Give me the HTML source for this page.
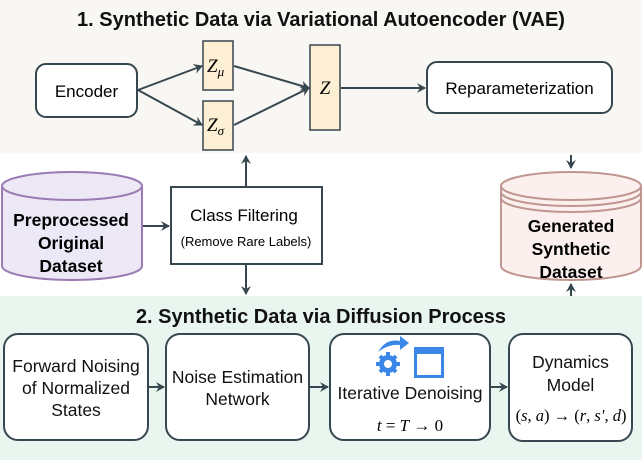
<!DOCTYPE html>
<html><head><meta charset="utf-8"><style>
html,body{margin:0;padding:0;background:#fff}
svg{display:block;font-family:"Liberation Sans",Arial,sans-serif}
.m{font-family:"Liberation Serif",serif;font-style:italic}
</style></head><body>
<svg width="642" height="476" viewBox="0 0 642 476" xmlns="http://www.w3.org/2000/svg">
<defs><marker id="a" markerWidth="10" markerHeight="10" refX="8" refY="5" orient="auto" markerUnits="userSpaceOnUse"><path d="M0,0 L9,5 L0,10 L3,5 Z" fill="#37474f"/></marker></defs>
<rect x="0" y="0" width="642" height="153" fill="#f9f7f3"/>
<rect x="0" y="296" width="642" height="164" fill="#e8f6ef"/>
<g stroke="#37474f" stroke-width="2" fill="none">
<line x1="138" y1="90" x2="202" y2="66" marker-end="url(#a)"/>
<line x1="138" y1="90" x2="202" y2="125" marker-end="url(#a)"/>
<line x1="234" y1="66" x2="309" y2="88" marker-end="url(#a)"/>
<line x1="234" y1="125" x2="309" y2="88" marker-end="url(#a)"/>
<line x1="341" y1="88" x2="425" y2="88" marker-end="url(#a)"/>
<line x1="143" y1="226" x2="169" y2="226" marker-end="url(#a)"/>
<line x1="246" y1="186" x2="246" y2="156" marker-end="url(#a)"/>
<line x1="246" y1="265" x2="246" y2="294" marker-end="url(#a)"/>
<line x1="571" y1="155" x2="571" y2="168" marker-end="url(#a)"/>
<line x1="571" y1="296" x2="571" y2="284" marker-end="url(#a)"/>
<line x1="149" y1="387" x2="164" y2="387" marker-end="url(#a)"/>
<line x1="310" y1="387" x2="328" y2="387" marker-end="url(#a)"/>
<line x1="491" y1="387" x2="507" y2="387" marker-end="url(#a)"/>
</g>
<text x="321" y="26" text-anchor="middle" font-size="20" font-weight="bold" fill="#111">1. Synthetic Data via Variational Autoencoder (VAE)</text>
<rect x="36" y="64" width="101" height="53" rx="10" fill="#fff" stroke="#37474f" stroke-width="2"/>
<text x="86.5" y="97" text-anchor="middle" font-size="17">Encoder</text>
<rect x="203" y="41" width="30" height="49" fill="#fcefd4" stroke="#37474f" stroke-width="1.5"/>
<text x="207" y="72" class="m" font-size="19">Z<tspan font-size="13" dy="4">μ</tspan></text>
<rect x="203" y="101" width="30" height="49" fill="#fcefd4" stroke="#37474f" stroke-width="1.5"/>
<text x="207" y="131" class="m" font-size="19">Z<tspan font-size="13" dy="4">σ</tspan></text>
<rect x="310" y="45" width="30" height="85" fill="#fcefd4" stroke="#37474f" stroke-width="1.5"/>
<text x="325" y="94" text-anchor="middle" class="m" font-size="19">Z</text>
<rect x="427" y="62" width="185" height="51" rx="10" fill="#fff" stroke="#37474f" stroke-width="2"/>
<text x="519.5" y="94" text-anchor="middle" font-size="17">Reparameterization</text>
<path d="M2,186 L2,266 A70,14 0 0 0 142,266 L142,186" fill="#ede8f6" stroke="#9a7bb3" stroke-width="2"/>
<ellipse cx="72" cy="186" rx="70" ry="14" fill="#ede8f6" stroke="#9a7bb3" stroke-width="2"/>
<text x="71" y="226" text-anchor="middle" font-size="17.5" font-weight="bold">Preprocessed</text>
<text x="71" y="249" text-anchor="middle" font-size="17.5" font-weight="bold">Original</text>
<text x="71" y="272" text-anchor="middle" font-size="17.5" font-weight="bold">Dataset</text>
<rect x="171" y="187" width="151" height="77" fill="#fff" stroke="#37474f" stroke-width="2"/>
<text x="244" y="221" text-anchor="middle" font-size="17">Class Filtering</text>
<text x="246" y="246" text-anchor="middle" font-size="13">(Remove Rare Labels)</text>
<path d="M501,186 L501,266 A70,14 0 0 0 641,266 L641,186" fill="#fcf0ef" stroke="#c09690" stroke-width="2"/>
<ellipse cx="571" cy="186" rx="70" ry="14" fill="#fcf0ef" stroke="#c09690" stroke-width="2"/>
<path d="M501,192 A70,14 0 0 0 641,192 M501,198 A70,14 0 0 0 641,198" fill="none" stroke="#c09690" stroke-width="2"/>
<text x="571" y="232" text-anchor="middle" font-size="17.5" font-weight="bold">Generated</text>
<text x="571" y="255" text-anchor="middle" font-size="17.5" font-weight="bold">Synthetic</text>
<text x="571" y="278" text-anchor="middle" font-size="17.5" font-weight="bold">Dataset</text>
<text x="321" y="323" text-anchor="middle" font-size="20" font-weight="bold" fill="#111">2. Synthetic Data via Diffusion Process</text>
<g fill="#fff" stroke="#37474f" stroke-width="2">
<rect x="4" y="334" width="144" height="106" rx="14"/>
<rect x="166" y="334" width="143" height="106" rx="14"/>
<rect x="330" y="334" width="160" height="106" rx="14"/>
<rect x="509" y="334" width="123" height="107" rx="14"/>
</g>
<g font-size="17.5" text-anchor="middle" fill="#111">
<text x="76" y="372">Forward Noising</text>
<text x="76" y="394">of Normalized</text>
<text x="76" y="416">States</text>
<text x="237.5" y="383">Noise Estimation</text>
<text x="237.5" y="405">Network</text>
<text x="410" y="399">Iterative Denoising</text>
<text x="570.5" y="368">Dynamics</text>
<text x="570.5" y="391">Model</text>
</g>
<text x="410" y="431" text-anchor="middle" class="m" font-size="17">t <tspan font-style="normal">= </tspan>T<tspan font-style="normal"> → 0</tspan></text>
<text x="571" y="421" text-anchor="middle" class="m" font-size="16.5"><tspan font-style="normal">(</tspan>s<tspan font-style="normal">, </tspan>a<tspan font-style="normal">) → (</tspan>r<tspan font-style="normal">, </tspan>s′<tspan font-style="normal">, </tspan>d<tspan font-style="normal">)</tspan></text>
<g fill="#3b87e8">
<circle cx="388" cy="364" r="9"/>
<g stroke="#3b87e8" stroke-width="4">
<line x1="388" y1="352" x2="388" y2="376"/><line x1="376" y1="364" x2="400" y2="364"/>
<line x1="380" y1="356" x2="396" y2="372"/><line x1="396" y1="356" x2="380" y2="372"/>
</g>
<circle cx="388" cy="364" r="4" fill="#fff"/>
<path d="M378,352 Q386,338 400,341 L400,336 L409,343 L400,350 L400,345 Q388,344 378,352Z"/>
<rect x="414" y="347" width="30" height="31"/>
<rect x="417" y="354" width="24" height="21" fill="#fff"/>
</g>
</svg>
</body></html>
